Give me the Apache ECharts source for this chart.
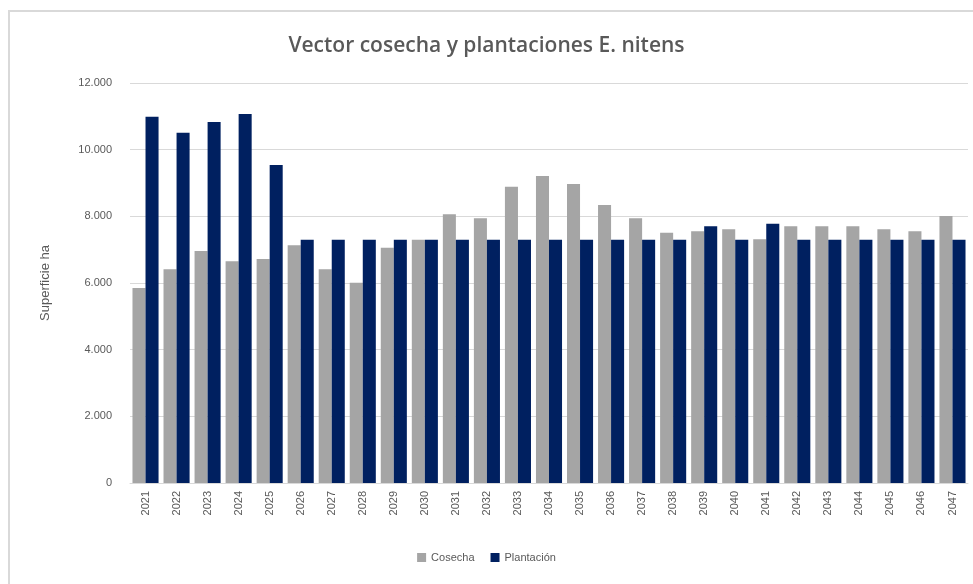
<!DOCTYPE html>
<html>
<head>
<meta charset="utf-8">
<script src="https://cdn.jsdelivr.net/npm/echarts@6/dist/echarts.min.js"></script>
<style>
  html, body { margin: 0; padding: 0; background: #fff; }
  #main { width: 973px; height: 584px; }
</style>
</head>
<body>
<div id="main"></div>
<script>
const years = ["2021", "2022", "2023", "2024", "2025", "2026", "2027", "2028", "2029", "2030",
  "2031", "2032", "2033", "2034", "2035", "2036", "2037", "2038", "2039", "2040",
  "2041", "2042", "2043", "2044", "2045", "2046", "2047"];
const cosecha = [5850, 6410, 6960, 6650, 6720, 7130, 6410, 6010, 7060, 7300,
  8060, 7940, 8890, 9210, 8970, 8340, 7940, 7510, 7550, 7610,
  7310, 7700, 7700, 7700, 7610, 7550, 8010];
const plantacion = [10990, 10510, 10830, 11070, 9540, 7300, 7300, 7300, 7300, 7300,
  7300, 7300, 7300, 7300, 7300, 7300, 7300, 7300, 7700, 7300,
  7780, 7300, 7300, 7300, 7300, 7300, 7300];

const main_element = document.getElementById("main");
const chart = echarts.init(main_element);

function fmtThousands(v) {
  return String(v).replace(/\B(?=(\d{3})+(?!\d))/g, ".");
}

chart.setOption({
  animation: false,
  textStyle: { fontFamily: "Liberation Sans, Arial, sans-serif" },
  title: {
    text: "Vector cosecha y plantaciones E. nitens",
    left: "center",
    top: 31,
    textStyle: { fontSize: 21, fontWeight: 600, color: "#595959", fontFamily: "Open Sans, sans-serif" }
  },
  legend: {
    bottom: 16,
    left: "center",
    itemWidth: 9,
    itemHeight: 9,
    itemGap: 16,
    icon: "rect",
    textStyle: { fontSize: 11, color: "#595959" },
    data: ["Cosecha", "Plantación"]
  },
  grid: { left: 130, right: 5, top: 83, bottom: 101, containLabel: false },
  xAxis: {
    type: "category",
    data: years,
    axisTick: { show: false },
    axisLine: { lineStyle: { color: "#d9d9d9" } },
    axisLabel: { rotate: 90, color: "#595959", fontSize: 11, margin: 8 }
  },
  yAxis: {
    type: "value",
    min: 0,
    max: 12000,
    interval: 2000,
    name: "Superficie ha",
    nameLocation: "middle",
    nameGap: 78,
    nameTextStyle: { fontSize: 13, color: "#595959" },
    axisLine: { show: false },
    axisTick: { show: false },
    axisLabel: { color: "#595959", fontSize: 11, margin: 18, formatter: fmtThousands },
    splitLine: { lineStyle: { color: "#d9d9d9" } }
  },
  series: [
    {
      name: "Cosecha",
      type: "bar",
      data: cosecha,
      itemStyle: { color: "#A5A5A5" },
      barGap: "0%",
      barCategoryGap: "16%"
    },
    {
      name: "Plantación",
      type: "bar",
      data: plantacion,
      itemStyle: { color: "#002060" },
      barGap: "0%",
      barCategoryGap: "16%"
    }
  ],
  graphic: [
    {
      type: "rect",
      shape: { x: 9, y: 11, width: 1000, height: 600 },
      style: { fill: "none", stroke: "#d9d9d9", lineWidth: 2 },
      silent: true
    }
  ]
});
</script>
</body>
</html>
